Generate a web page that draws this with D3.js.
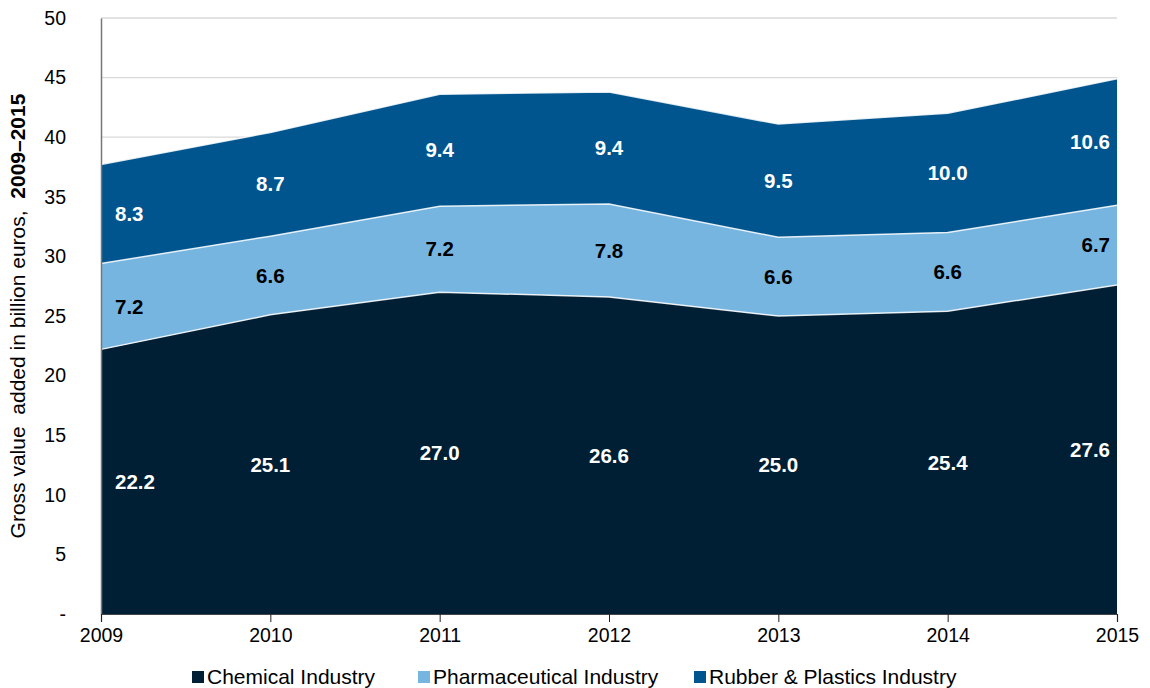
<!DOCTYPE html>
<html>
<head>
  <meta charset="utf-8" />
  <script src="https://cdn.jsdelivr.net/npm/d3@7/dist/d3.min.js"></script>
  <style>
    body { margin: 0; background: #fff; }
    svg { font-family: "Liberation Sans", Arial, sans-serif; }
  </style>
</head>
<body>
<script>
  "use strict";

  var years = ["2009", "2010", "2011", "2012", "2013", "2014", "2015"];
  var chemical = [22.2, 25.1, 27.0, 26.6, 25.0, 25.4, 27.6];
  var pharma = [7.2, 6.6, 7.2, 7.8, 6.6, 6.6, 6.7];
  var rubber = [8.3, 8.7, 9.4, 9.4, 9.5, 10.0, 10.6];
  var seriesNames = ["Chemical Industry", "Pharmaceutical Industry", "Rubber & Plastics Industry"];
  var yTicks = [0, 5, 10, 15, 20, 25, 30, 35, 40, 45, 50];

  var colors = ["#001f35", "#77b5e1", "#00558e"];
  var labelColors = ["#fff", "#000", "#fff"];

  var width = 1150, height = 688;
  var margin = { top: 18, right: 33, bottom: 74, left: 101 };

  var svg = d3.select("body").append("svg")
    .attr("width", width)
    .attr("height", height);

  var x = d3.scalePoint().domain(years).range([margin.left, width - margin.right]);
  var y = d3.scaleLinear().domain([0, 50]).range([height - margin.bottom, margin.top]);

  var rows = years.map(function(yr, i) {
    return { year: yr, s0: chemical[i], s1: pharma[i], s2: rubber[i] };
  });
  var layers = d3.stack().keys(["s0", "s1", "s2"])(rows);

  // gridlines
  svg.append("g")
    .selectAll("line")
    .data(yTicks.slice(1))
    .enter().append("line")
    .attr("x1", margin.left)
    .attr("x2", width - margin.right)
    .attr("y1", function(d) { return y(d); })
    .attr("y2", function(d) { return y(d); })
    .attr("stroke", "#d9d9d9")
    .attr("stroke-width", 1.3);

  var area = d3.area()
    .x(function(d) { return x(d.data.year); })
    .y0(function(d) { return y(d[0]); })
    .y1(function(d) { return y(d[1]); });

  svg.append("g")
    .selectAll("path")
    .data(layers)
    .enter().append("path")
    .attr("d", area)
    .attr("fill", function(d, i) { return colors[i]; });

  // thin white edges on top of each layer
  var topLine = d3.line()
    .x(function(d) { return x(d.data.year); })
    .y(function(d) { return y(d[1]); });

  svg.append("g")
    .selectAll("path")
    .data(layers)
    .enter().append("path")
    .attr("d", topLine)
    .attr("fill", "none")
    .attr("stroke", "#fff")
    .attr("stroke-opacity", 0.85)
    .attr("stroke-width", 1.5);

  // value labels
  layers.forEach(function(layer, li) {
    svg.append("g")
      .selectAll("text")
      .data(layer)
      .enter().append("text")
      .attr("x", function(d, i) {
        if (i === 0) return x(d.data.year) + 14;
        if (i === years.length - 1) return x(d.data.year) - 7;
        return x(d.data.year);
      })
      .attr("y", function(d) { return y((d[0] + d[1]) / 2); })
      .attr("dy", "0.35em")
      .attr("text-anchor", function(d, i) {
        if (i === 0) return "start";
        if (i === years.length - 1) return "end";
        return "middle";
      })
      .attr("font-size", 20.5)
      .attr("font-weight", "bold")
      .attr("fill", labelColors[li])
      .text(function(d) { return (d[1] - d[0]).toFixed(1); });
  });

  // y axis
  var yAxis = d3.axisLeft(y)
    .tickValues(yTicks)
    .tickSize(0)
    .tickPadding(35)
    .tickFormat(function(d) { return d === 0 ? "-" : d; });

  var gy = svg.append("g")
    .attr("transform", "translate(" + margin.left + ",0)")
    .call(yAxis);
  gy.select(".domain").attr("stroke", "#777").attr("stroke-width", 1.5);
  gy.selectAll(".tick text").attr("font-size", 19.5).attr("fill", "#000")
    .attr("font-family", "Liberation Sans, Arial, sans-serif");

  // x axis
  var xAxis = d3.axisBottom(x).tickSize(8).tickPadding(6);
  var gx = svg.append("g")
    .attr("transform", "translate(0," + y(0) + ")")
    .call(xAxis);
  gx.select(".domain").attr("stroke", "#444").attr("stroke-width", 1.2);
  gx.selectAll(".tick line").attr("stroke", "#222");
  gx.selectAll(".tick text").attr("font-size", 19.5).attr("fill", "#000")
    .attr("font-family", "Liberation Sans, Arial, sans-serif");

  // y axis title
  var title = svg.append("text")
    .attr("transform", "translate(25," + ((margin.top + y(0)) / 2) + ") rotate(-90)")
    .attr("text-anchor", "middle")
    .attr("font-size", 21)
    .attr("fill", "#000");
  title.append("tspan").text("Gross value  added in billion euros,  ").attr("xml:space", "preserve");
  title.append("tspan").attr("font-weight", "bold").text("2009\u20132015");

  // legend
  var legendX = [192, 418, 694];
  var legend = svg.append("g")
    .selectAll("g")
    .data(seriesNames)
    .enter().append("g")
    .attr("transform", function(d, i) { return "translate(" + legendX[i] + ",677)"; });

  legend.append("rect")
    .attr("x", 0)
    .attr("y", -6)
    .attr("width", 12)
    .attr("height", 12)
    .attr("fill", function(d, i) { return colors[i]; });

  legend.append("text")
    .attr("x", 15)
    .attr("y", 0)
    .attr("dy", "0.35em")
    .attr("font-size", 21)
    .attr("fill", "#000")
    .text(function(d) { return d; });
</script>
</body>
</html>
